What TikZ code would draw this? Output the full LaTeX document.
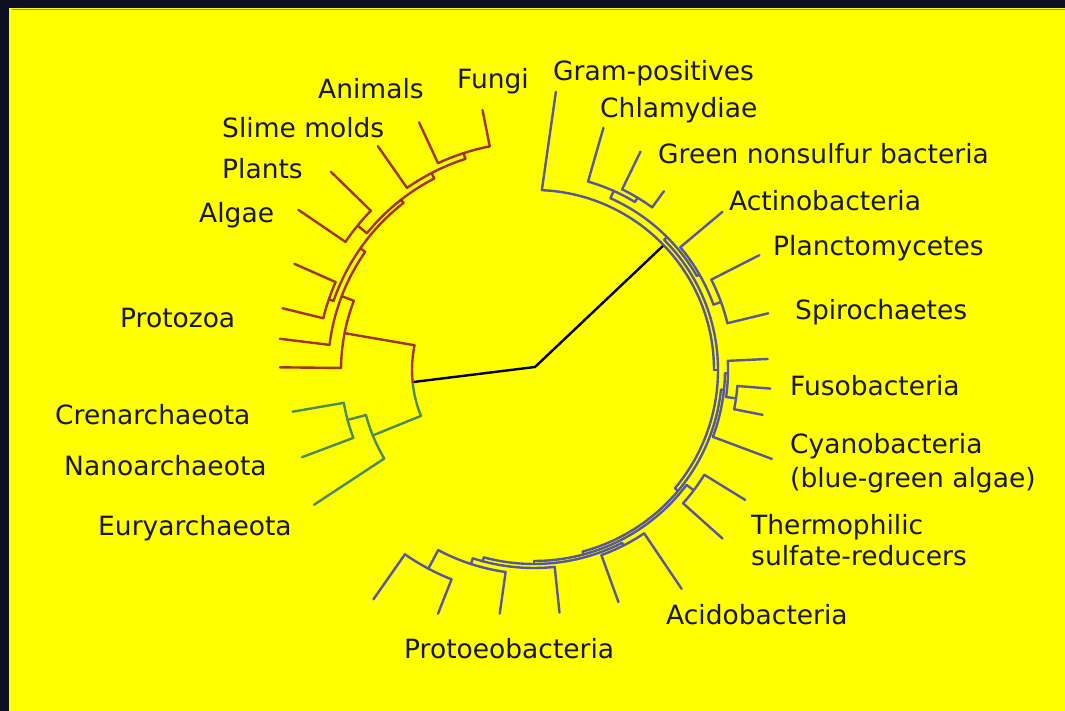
\documentclass[tikz,border=0pt]{standalone}
\usepackage{fontspec}
\setmainfont{DejaVu Sans}
\definecolor{bgdark}{RGB}{12,16,32}
\definecolor{yel}{RGB}{255,255,0}
\definecolor{eukc}{RGB}{165,50,20}
\definecolor{arcc}{RGB}{75,140,85}
\definecolor{bacc}{RGB}{88,88,150}
\definecolor{olivec}{RGB}{150,150,0}
% arc at radius #1 from angle #2 to #3 ; radial line at angle #1 from r #2 to #3
\newcommand\tarc[3]{\draw (#2:#1) arc[start angle=#2, end angle=#3, radius=#1];}
\newcommand\trad[3]{\draw (#1:#2) -- (#1:#3);}
\tikzset{lbl/.style={anchor=base west, inner sep=0pt, text=black!90,
  font=\fontsize{26.5}{31}\selectfont}}
\begin{document}
\begin{tikzpicture}[x=1pt,y=1pt]
\useasboundingbox (0,0) rectangle (1065,711);
\fill[bgdark] (0,0) rectangle (1065,711);
\fill[yel] (9,0) rectangle (1065,703);
\draw[olivec, line width=1pt] (12,701.5) -- (1065,701.5);

\begin{scope}[shift={(534,341)}, line width=2.4pt, line cap=round]
% root
\draw[black] (185.7:122) -- (1,3) -- (43.9:179);
% archaea
\begin{scope}[color=arcc]
\tarc{122}{185.7}{202.1}
\trad{202.1}{122}{174}
\tarc{174}{195}{210.6}
\draw (210.6:174) -- (211.5:258);
\trad{195}{174}{193}
\tarc{193}{189.8}{200.6}
\trad{189.8}{193}{245}
\trad{200.6}{193}{248}
\end{scope}
% eukaryotes
\begin{scope}[color=eukc]
\tarc{122}{168.3}{185.7}
\draw (168.3:122) -- (169:193);
\tarc{193}{159}{179.4}
\trad{179.4}{193}{254}
\trad{159}{193}{206}
\tarc{206}{145}{173}
\trad{173}{206}{256}
\trad{145}{206}{212}
\tarc{212}{128}{161}
\trad{161}{212}{217}
\tarc{217}{156.1}{166.2}
\trad{156.1}{217}{262}
\trad{166.2}{217}{259}
\trad{128}{212}{216}
\tarc{216}{117.5}{140.7}
\trad{140.7}{216}{228}
\tarc{228}{135.7}{145.8}
\trad{135.7}{228}{284}
\trad{145.8}{228}{285}
\trad{117.5}{216}{222}
\tarc{222}{108}{124.9}
\trad{124.9}{222}{273}
\trad{108}{222}{228}
\tarc{228}{101.2}{114.9}
\trad{101.2}{228}{265}
\trad{114.9}{228}{273}
\end{scope}
% bacteria
\begin{scope}[color=bacc]
\tarc{180}{0}{87.5}
\draw (87.5:180) -- (85.5:279);
\trad{0}{180}{184}
\tarc{184}{-40}{45}
\trad{45}{184}{188}
\tarc{188}{30}{66}
\trad{66}{188}{196}
\tarc{196}{59}{74}
\trad{74}{196}{252}
\trad{59}{196}{201}
\tarc{201}{54}{64}
\trad{64}{201}{243}
\trad{54}{201}{221}
\trad{30}{188}{191}
\tarc{191}{20}{40}
\trad{40}{191}{246}
\trad{20}{191}{199}
\tarc{199}{13.6}{27}
\trad{27}{199}{253}
\trad{13.6}{199}{241}
\trad{-40}{184}{188}
\tarc{188}{-75}{-6}
\trad{-6}{188}{191}
\tarc{191}{-20.5}{-1}
\trad{-1}{191}{194}
\tarc{194}{-8}{2.7}
\trad{2.7}{194}{234}
\trad{-8}{194}{204}
\tarc{204}{-11.1}{-4.5}
\trad{-4.5}{204}{237}
\trad{-11.1}{204}{233}
\trad{-20.5}{191}{254}
\trad{-75}{188}{191}
\tarc{191}{-90}{-37}
\trad{-37}{191}{200}
\tarc{200}{-41.8}{-31.6}
\trad{-31.6}{200}{248}
\trad{-41.8}{200}{253}
\trad{-90}{191}{194}
\tarc{194}{-105}{-63}
\trad{-63}{194}{197}
\tarc{197}{-70}{-56}
\trad{-56}{197}{264}
\trad{-70}{197}{247}
\trad{-105}{194}{198}
\tarc{198}{-108}{-84}
\trad{-84}{198}{244}
\trad{-108}{198}{204}
\tarc{204}{-118}{-98}
\trad{-98}{204}{246}
\trad{-118}{204}{225}
\tarc{225}{-125}{-111.5}
\trad{-111.5}{225}{262}
\trad{-125}{225}{280}
\end{scope}
\end{scope}

% labels
\node[lbl] (fungi) at (457,622) {Fungi};
\node[lbl] (animals) at (318,612) {Animals};
\node[lbl] (slime) at (222,573) {Slime molds};
\node[lbl] (plants) at (222,532) {Plants};
\node[lbl] (algae) at (199,488) {Algae};
\node[lbl] (protozoa) at (120,383) {Protozoa};
\node[lbl] (cren) at (55,286) {Crenarchaeota};
\node[lbl] (nano) at (64,235) {Nanoarchaeota};
\node[lbl] (eury) at (98,175) {Euryarchaeota};
\node[lbl] (gram) at (553,630) {Gram-positives};
\node[lbl] (chlam) at (600,593) {Chlamydiae};
\node[lbl] (gns) at (658,547) {Green nonsulfur bacteria};
\node[lbl] (actino) at (729,500) {Actinobacteria};
\node[lbl] (plancto) at (773,455) {Planctomycetes};
\node[lbl] (spiro) at (795,391) {Spirochaetes};
\node[lbl] (fuso) at (790,315) {Fusobacteria};
\node[lbl] (cyano) at (790,257) {Cyanobacteria};
\node[lbl] (cyano2) at (790,223) {(blue-green algae)};
\node[lbl] (thermo) at (751,176) {Thermophilic};
\node[lbl] (thermo2) at (751,145) {sulfate-reducers};
\node[lbl] (acido) at (666,86) {Acidobacteria};
\node[lbl] (proteo) at (404,52) {Protoeobacteria};
\end{tikzpicture}
\end{document}
